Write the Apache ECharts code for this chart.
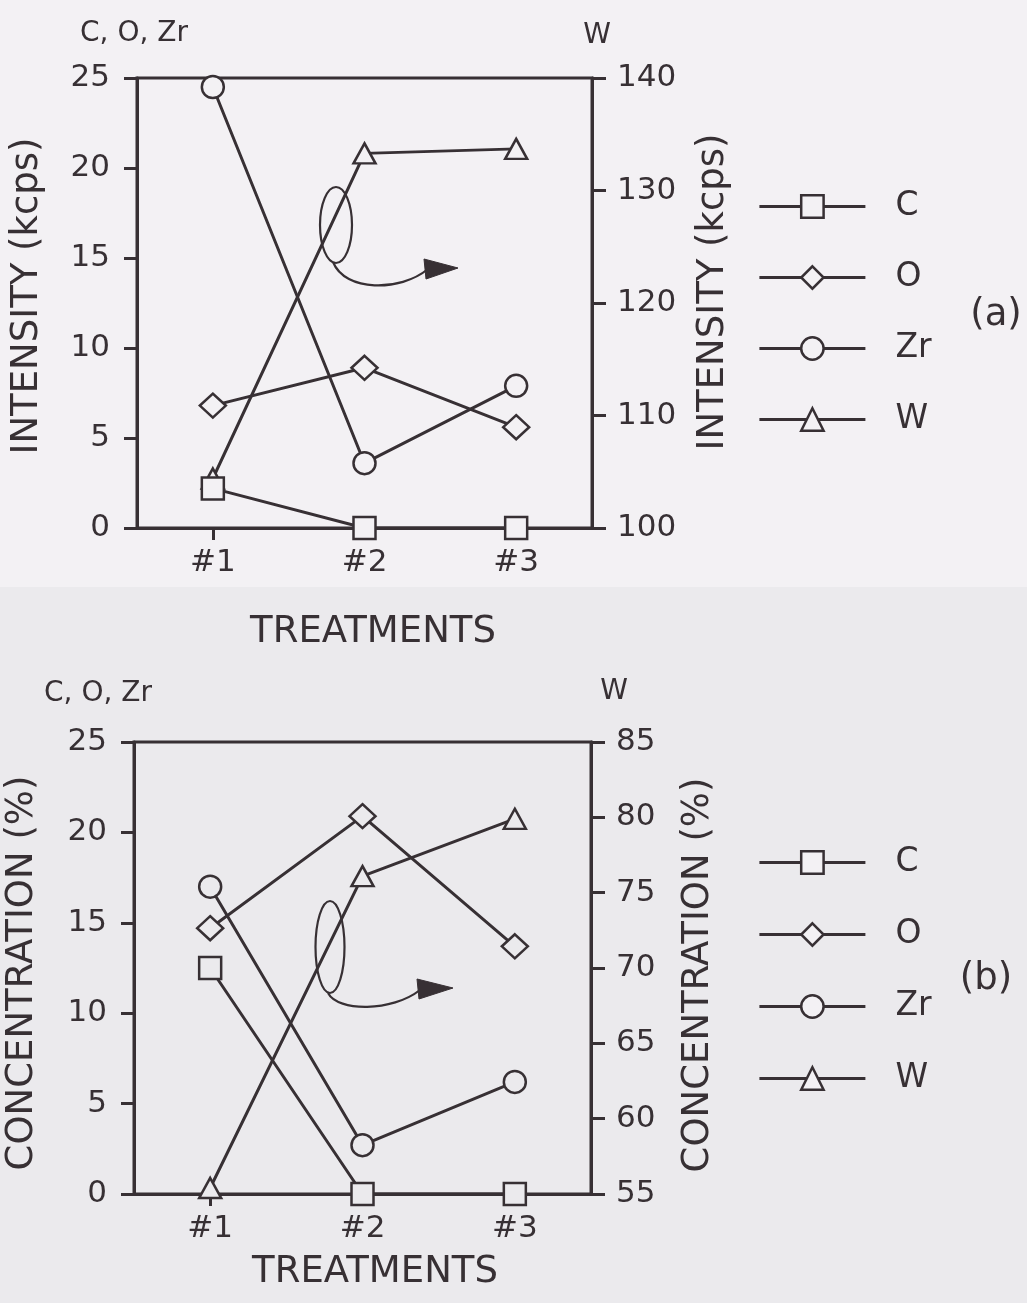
<!DOCTYPE html>
<html><head><meta charset="utf-8">
<script src="https://cdn.jsdelivr.net/npm/echarts@6/dist/echarts.min.js"></script>
<style>html,body{margin:0;padding:0;background:#f3f1f4;}#c{width:1027px;height:1303px;}</style>
</head><body><div id="c"></div>
<script>
// ---- data ----
const categories = ['#1', '#2', '#3'];
const elementNames = ['C', 'O', 'Zr', 'W'];
// (a) INTENSITY (kcps)
const aC  = [2.2, 0, 0];
const aO  = [6.8, 8.9, 5.6];
const aZr = [24.5, 3.6, 7.9];
const aW  = [104.4, 133.3, 133.7];
// (b) CONCENTRATION (%)
const bC  = [12.5, 0, 0];
const bO  = [14.7, 20.9, 13.7];
const bZr = [17.0, 2.7, 6.2];
const bW  = [55.4, 76.1, 79.9];
// tick labels
const aLeftTicks  = [0, 5, 10, 15, 20, 25];
const aRightTicks = [100, 110, 120, 130, 140];
const bLeftTicks  = [0, 5, 10, 15, 20, 25];
const bRightTicks = [55, 60, 65, 70, 75, 80, 85];

// ---- style ----
const ink = '#373034';
const bgTop = '#f3f1f4';
const bgBot = '#ebeaed';
const FONT = 'DejaVu Sans';
const LW = 3;

function valAxis(ticks, gridIndex, position, tickLen, margin) {
  return {
    type: 'value', gridIndex: gridIndex, position: position,
    min: ticks[0], max: ticks[ticks.length - 1], interval: ticks[1] - ticks[0],
    axisLine: { show: true, lineStyle: { color: ink, width: LW } },
    axisTick: { show: true, inside: false, length: tickLen, lineStyle: { color: ink, width: LW } },
    axisLabel: { margin: margin, fontSize: 31, fontFamily: FONT, color: ink },
    splitLine: { show: false }
  };
}
function catAxis(gridIndex) {
  return {
    type: 'category', gridIndex: gridIndex, data: categories, boundaryGap: true,
    axisLine: { show: true, lineStyle: { color: ink, width: LW } },
    axisTick: { show: true, alignWithLabel: true, length: 12, lineStyle: { color: ink, width: LW } },
    axisLabel: { margin: 19, fontSize: 31, fontFamily: FONT, color: ink },
    splitLine: { show: false }
  };
}
const symbols = { C: ['rect', 22], O: ['diamond', [26, 24]], Zr: ['circle', 22], W: ['triangle', [22, 20]] };
function mk(name, data, xIdx, yIdx, fill, z) {
  return {
    type: 'line', name: name, data: data, xAxisIndex: xIdx, yAxisIndex: yIdx,
    symbol: symbols[name][0], symbolSize: symbols[name][1], showAllSymbol: true,
    lineStyle: { color: ink, width: LW },
    itemStyle: { color: fill, borderColor: ink, borderWidth: 2.5 },
    emphasis: { disabled: true }, z: z, animation: false
  };
}
function legendAt(top, gap) {
  return {
    orient: 'vertical', left: 753, top: top, itemGap: gap,
    itemWidth: 106, itemHeight: 28,
    data: elementNames, selectedMode: false,
    lineStyle: { width: 2.8, color: ink },
    itemStyle: { borderWidth: 2.5, borderColor: ink },
    textStyle: { fontSize: 33, fontFamily: FONT, color: ink, lineHeight: 28, padding: [0, 0, 0, 25] }
  };
}
function txt(text, x, y, size, rot) {
  return {
    type: 'text', x: x, y: y, rotation: rot || 0, z: 50,
    style: { text: text, fill: ink, font: size + 'px "' + FONT + '"', align: 'center', verticalAlign: 'middle' }
  };
}
function arrow(cx, cy, rx, ry, p0, c1, c2, p1, head) {
  return [
    { type: 'ellipse', shape: { cx: cx, cy: cy, rx: rx, ry: ry }, style: { fill: null, stroke: ink, lineWidth: 2.2 }, z: 50 },
    { type: 'bezierCurve', shape: { x1: p0[0], y1: p0[1], cpx1: c1[0], cpy1: c1[1], cpx2: c2[0], cpy2: c2[1], x2: p1[0], y2: p1[1] },
      style: { fill: null, stroke: ink, lineWidth: 2.2 }, z: 50 },
    { type: 'polygon', shape: { points: head }, style: { fill: ink, stroke: ink, lineWidth: 1 }, z: 50 }
  ];
}

const chart = echarts.init(document.getElementById('c'));
chart.setOption({
  backgroundColor: bgTop,
  animation: false,
  grid: [
    { left: 137, top: 78, width: 455, height: 450, show: true, borderColor: ink, borderWidth: LW, backgroundColor: 'transparent' },
    { left: 134, top: 742, width: 457, height: 452, show: true, borderColor: ink, borderWidth: LW, backgroundColor: 'transparent' }
  ],
  xAxis: [catAxis(0), catAxis(1)],
  yAxis: [
    valAxis(aLeftTicks, 0, 'left', 13, 27),
    valAxis(aRightTicks, 0, 'right', 14, 25),
    valAxis(bLeftTicks, 1, 'left', 13, 27),
    valAxis(bRightTicks, 1, 'right', 14, 25)
  ],
  legend: [legendAt(185, 38), legendAt(841, 39)],
  series: [
    mk('W', aW, 0, 1, bgTop, 2), mk('Zr', aZr, 0, 0, bgTop, 3), mk('O', aO, 0, 0, bgTop, 4), mk('C', aC, 0, 0, bgTop, 5),
    mk('W', bW, 1, 3, bgBot, 2), mk('Zr', bZr, 1, 2, bgBot, 3), mk('O', bO, 1, 2, bgBot, 4), mk('C', bC, 1, 2, bgBot, 5)
  ],
  graphic: [
    { type: 'rect', shape: { x: 0, y: 587, width: 1027, height: 716 }, style: { fill: bgBot }, z: -10, silent: true },
    txt('C, O, Zr', 134, 34, 28), txt('W', 597, 36, 28),
    txt('C, O, Zr', 98, 694, 28), txt('W', 614, 692, 28),
    txt('INTENSITY (kcps)', 27, 296, 37, Math.PI / 2),
    txt('INTENSITY (kcps)', 713, 292, 37, Math.PI / 2),
    txt('CONCENTRATION (%)', 22, 973, 37, Math.PI / 2),
    txt('CONCENTRATION (%)', 698, 975, 37, Math.PI / 2),
    txt('TREATMENTS', 373, 632, 37), txt('TREATMENTS', 375, 1272, 37),
    txt('(a)', 996, 315, 37), txt('(b)', 986, 979, 37)
  ].concat(
    arrow(336, 225, 16, 38, [333, 262], [345, 292], [400, 292], [428, 269], [[458, 268], [424, 259], [426, 279]]),
    arrow(330, 947, 14.5, 46, [328, 993], [338, 1012], [392, 1012], [420, 990], [[453, 988], [417, 979], [419, 999]])
  )
});
</script></body></html>
